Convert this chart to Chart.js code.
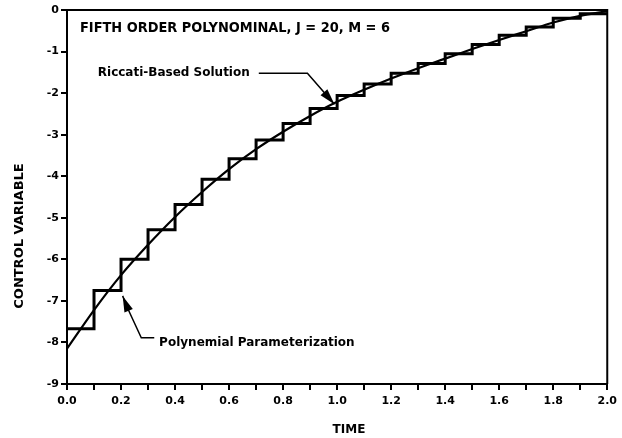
<!DOCTYPE html>
<html lang="en">
<head>
  <meta charset="UTF-8" />
  <title>Control Variable vs Time</title>
  <script src="https://cdn.jsdelivr.net/npm/chart.js"></script>
  <style>
    html, body { margin: 0; padding: 0; background: #fff; }
    #wrap { width: 622px; height: 438px; }
  </style>
</head>
<body>
  <div id="wrap"><canvas id="grafik" width="622" height="438"></canvas></div>

  <script>
    // step function: value held on [t, t+0.1)
    const stepStarts = [0.0, 0.1, 0.2, 0.3, 0.4, 0.5, 0.6, 0.7, 0.8, 0.9,
                        1.0, 1.1, 1.2, 1.3, 1.4, 1.5, 1.6, 1.7, 1.8, 1.9];
    const stepValues = [-7.67, -6.75, -6.00, -5.29, -4.68, -4.07, -3.58, -3.13, -2.73, -2.37,
                        -2.06, -1.78, -1.52, -1.29, -1.05, -0.83, -0.61, -0.41, -0.20, -0.09];
    const stepEnd = 2.0;

    // Riccati-based solution (smooth curve)
    const curveTimes  = [0.0, 0.1, 0.2, 0.3, 0.4, 0.5, 0.6, 0.7, 0.8, 0.9, 1.0,
                         1.1, 1.2, 1.3, 1.4, 1.5, 1.6, 1.7, 1.8, 1.9, 2.0];
    const curveValues = [-8.15, -7.22, -6.38, -5.65, -4.98, -4.38, -3.83, -3.35, -2.93, -2.55, -2.21,
                         -1.92, -1.65, -1.40, -1.17, -0.94, -0.72, -0.51, -0.30, -0.14, -0.03];

    const xTickLabels = ['0.0', '0.2', '0.4', '0.6', '0.8', '1.0', '1.2', '1.4', '1.6', '1.8', '2.0'];
    const yTickLabels = ['0', '-1', '-2', '-3', '-4', '-5', '-6', '-7', '-8', '-9'];

    const headerText = 'FIFTH ORDER POLYNOMINAL, J = 20, M = 6';
    const riccatiLabel = 'Riccati-Based Solution';
    const polyLabel = 'Polynemial Parameterization';
    const xTitle = 'TIME';
    const yTitle = 'CONTROL VARIABLE';

    const stepData = stepStarts.map((t, i) => ({ x: t, y: stepValues[i] }));
    stepData.push({ x: stepEnd, y: stepValues[stepValues.length - 1] });
    const curveData = curveTimes.map((t, i) => ({ x: t, y: curveValues[i] }));

    const tickFont = { family: '"DejaVu Sans", sans-serif', size: 11, weight: 'bold' };

    function arrow(ctx, pts) {
      ctx.beginPath();
      ctx.moveTo(pts[0][0], pts[0][1]);
      for (let i = 1; i < pts.length; i++) ctx.lineTo(pts[i][0], pts[i][1]);
      ctx.stroke();
      // filled head on last segment
      const [x1, y1] = pts[pts.length - 2];
      const [x2, y2] = pts[pts.length - 1];
      const a = Math.atan2(y2 - y1, x2 - x1);
      const len = 16, half = 4.5;
      ctx.beginPath();
      ctx.moveTo(x2, y2);
      ctx.lineTo(x2 - len * Math.cos(a) + half * Math.sin(a), y2 - len * Math.sin(a) - half * Math.cos(a));
      ctx.lineTo(x2 - len * Math.cos(a) - half * Math.sin(a), y2 - len * Math.sin(a) + half * Math.cos(a));
      ctx.closePath();
      ctx.fill();
    }

    const bingkai = {
      id: 'bingkai',
      afterDraw(chart) {
        const { ctx, chartArea: ca, scales: { x, y } } = chart;
        const P = (t, v) => [x.getPixelForValue(t), y.getPixelForValue(v)];
        ctx.save();
        ctx.strokeStyle = '#000';
        ctx.fillStyle = '#000';
        ctx.lineWidth = 2;

        // top and right frame
        ctx.beginPath();
        ctx.moveTo(ca.left, ca.top);
        ctx.lineTo(ca.right, ca.top);
        ctx.lineTo(ca.right, ca.bottom);
        ctx.stroke();

        ctx.textBaseline = 'middle';
        ctx.textAlign = 'left';

        let p = P(0.048, -0.43);
        ctx.font = 'bold 14px "DejaVu Sans"';
        ctx.fillText(headerText, p[0], p[1], 310);

        p = P(0.114, -1.52);
        ctx.font = 'bold 12px "DejaVu Sans"';
        ctx.fillText(riccatiLabel, p[0], p[1], 162);

        p = P(0.341, -8.01);
        ctx.font = 'bold 12px "DejaVu Sans"';
        ctx.fillText(polyLabel, p[0], p[1], 202);

        ctx.lineWidth = 1.5;
        arrow(ctx, [P(0.71, -1.52), P(0.89, -1.52), P(0.99, -2.27)]);
        arrow(ctx, [P(0.323, -7.89), P(0.275, -7.89), P(0.224, -7.17), P(0.206, -6.88)]);

        // axis titles
        ctx.textAlign = 'center';
        ctx.font = 'bold 12px "DejaVu Sans"';
        ctx.fillText(xTitle, 349, 430, 36);
        ctx.translate(20, 236);
        ctx.rotate(-Math.PI / 2);
        ctx.font = 'bold 13px "DejaVu Sans"';
        ctx.fillText(yTitle, 0, 0, 168);
        ctx.restore();
      }
    };

    new Chart(document.getElementById('grafik'), {
      type: 'line',
      data: {
        datasets: [
          {
            label: 'Polynemial Parameterization',
            data: stepData,
            stepped: 'before',
            borderColor: '#000',
            borderWidth: 3,
            pointRadius: 0,
            fill: false
          },
          {
            label: 'Riccati-Based Solution',
            data: curveData,
            borderColor: '#000',
            borderWidth: 2.2,
            pointRadius: 0,
            cubicInterpolationMode: 'monotone',
            fill: false
          }
        ]
      },
      options: {
        responsive: false,
        animation: false,
        layout: { padding: { left: 0, right: 10, top: 10, bottom: 0 } },
        plugins: { legend: { display: false }, tooltip: { enabled: false } },
        scales: {
          x: {
            type: 'linear',
            min: 0,
            max: 2,
            afterFit: s => { s.height = 54; },
            grid: { drawOnChartArea: false, drawTicks: true, tickLength: 6, color: '#000', lineWidth: 2 },
            border: { display: true, color: '#000', width: 2 },
            ticks: {
              stepSize: 0.1,
              autoSkip: false,
              maxRotation: 0,
              padding: 5,
              color: '#000',
              font: tickFont,
              callback: v => {
                const i = Math.round(v * 10);
                return i % 2 === 0 ? xTickLabels[i / 2] : '';
              }
            }
          },
          y: {
            min: -9,
            max: 0,
            afterFit: s => { s.width = 67; },
            grid: { drawOnChartArea: false, drawTicks: true, tickLength: 6, color: '#000', lineWidth: 2 },
            border: { display: true, color: '#000', width: 2 },
            ticks: {
              stepSize: 1,
              padding: 2,
              color: '#000',
              font: tickFont,
              callback: v => yTickLabels[Math.round(-v)]
            }
          }
        }
      },
      plugins: [bingkai]
    });
  </script>
</body>
</html>
